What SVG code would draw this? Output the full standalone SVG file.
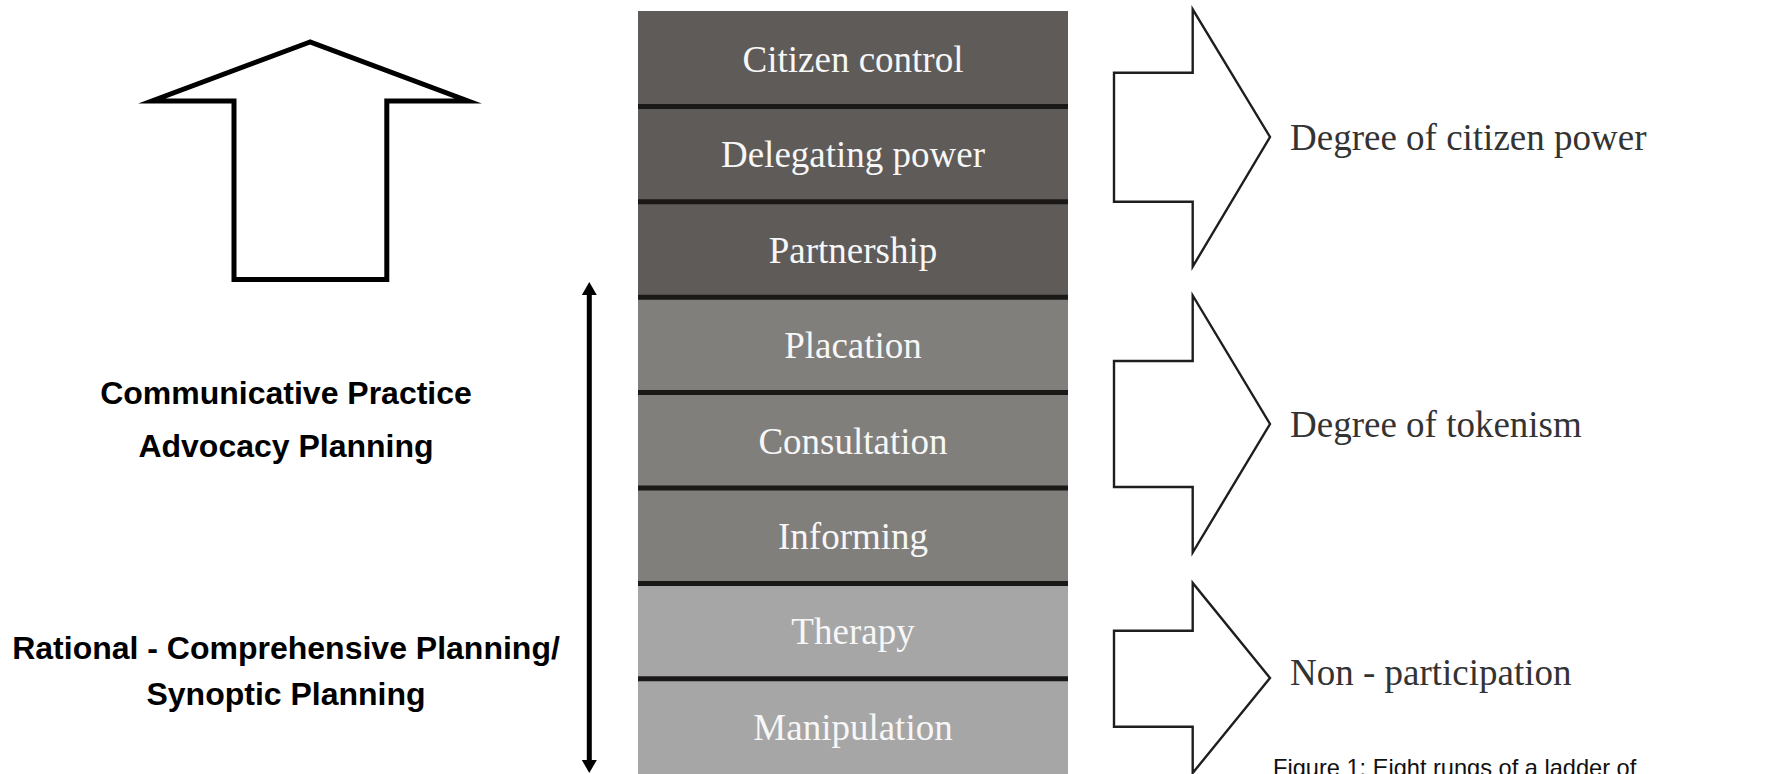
<svg xmlns="http://www.w3.org/2000/svg" width="1768" height="774" viewBox="0 0 1768 774">
  <defs>
    <style>
      .rung-dark { fill: #5f5b59; }
      .rung-mid { fill: #817f7c; }
      .rung-light { fill: #a6a6a6; }
      .rung-text { font-family: "Liberation Serif", "Times New Roman", serif; font-size: 37px; fill: #f7f7f7; text-anchor: middle; }
      .divider { stroke: #1b1918; stroke-width: 5; }
      .block-arrow { fill: #ffffff; stroke: #1e1e1e; stroke-width: 2.4; stroke-linejoin: miter; stroke-miterlimit: 10; }
      .side-label { font-family: "Liberation Serif", "Times New Roman", serif; font-size: 37px; fill: #333333; }
      .theory { font-family: "Liberation Sans", Arial, sans-serif; font-weight: bold; font-size: 32px; fill: #000000; text-anchor: middle; }
      .caption { font-family: "Liberation Sans", Arial, sans-serif; font-size: 23.6px; fill: #111111; }
    </style>
    <marker id="head" markerUnits="userSpaceOnUse" markerWidth="16" markerHeight="16" refX="0" refY="7.5" orient="auto-start-reverse">
      <path d="M0,0 L13,7.5 L0,15 Z" fill="#000000"/>
    </marker>
  </defs>

  <rect width="1768" height="774" fill="#ffffff"/>

  <!-- big upward outline arrow -->
  <g id="up-arrow">
    <path d="M310,42 L152,101 L234,101 L234,279.5 L386.8,279.5 L386.8,101 L468,101 Z" fill="#ffffff" stroke="#000000" stroke-width="5" stroke-linejoin="miter" stroke-miterlimit="12"/>
  </g>

  <!-- planning theory labels -->
  <g id="label-communicative">
    <text class="theory" x="286" y="404">Communicative Practice</text>
    <text class="theory" x="286" y="457">Advocacy Planning</text>
  </g>
  <g id="label-rational">
    <text class="theory" x="286" y="659">Rational - Comprehensive Planning/</text>
    <text class="theory" x="286" y="705">Synoptic Planning</text>
  </g>

  <!-- ladder rungs, top to bottom -->
  <g id="ladder">
    <g id="rung-citizen-control">
      <rect class="rung-dark" x="638" y="11" width="430" height="95.4"/>
      <text class="rung-text" x="853" y="72">Citizen control</text>
    </g>
    <g id="rung-delegating-power">
      <rect class="rung-dark" x="638" y="106.4" width="430" height="95.4"/>
      <text class="rung-text" x="853" y="167">Delegating power</text>
    </g>
    <g id="rung-partnership">
      <rect class="rung-dark" x="638" y="201.8" width="430" height="95.4"/>
      <text class="rung-text" x="853" y="262.5">Partnership</text>
    </g>
    <g id="rung-placation">
      <rect class="rung-mid" x="638" y="297.2" width="430" height="95.4"/>
      <text class="rung-text" x="853" y="358">Placation</text>
    </g>
    <g id="rung-consultation">
      <rect class="rung-mid" x="638" y="392.6" width="430" height="95.4"/>
      <text class="rung-text" x="853" y="453.5">Consultation</text>
    </g>
    <g id="rung-informing">
      <rect class="rung-mid" x="638" y="488" width="430" height="95.4"/>
      <text class="rung-text" x="853" y="549">Informing</text>
    </g>
    <g id="rung-therapy">
      <rect class="rung-light" x="638" y="583.4" width="430" height="95.4"/>
      <text class="rung-text" x="853" y="644">Therapy</text>
    </g>
    <g id="rung-manipulation">
      <rect class="rung-light" x="638" y="678.8" width="430" height="95.2"/>
      <text class="rung-text" x="853" y="739.5">Manipulation</text>
    </g>
    <g id="rung-dividers">
      <line class="divider" x1="638" y1="106.4" x2="1068" y2="106.4"/>
      <line class="divider" x1="638" y1="201.8" x2="1068" y2="201.8"/>
      <line class="divider" x1="638" y1="297.2" x2="1068" y2="297.2"/>
      <line class="divider" x1="638" y1="392.6" x2="1068" y2="392.6"/>
      <line class="divider" x1="638" y1="488" x2="1068" y2="488"/>
      <line class="divider" x1="638" y1="583.4" x2="1068" y2="583.4"/>
      <line class="divider" x1="638" y1="678.8" x2="1068" y2="678.8"/>
    </g>
  </g>

  <!-- range indicator beside the ladder -->
  <g id="connectors">
    <line x1="589.3" y1="295" x2="589.3" y2="760" stroke="#000000" stroke-width="5" marker-start="url(#head)" marker-end="url(#head)"/>
  </g>

  <!-- grouping arrows and their labels -->
  <g id="group-citizen-power">
    <path class="block-arrow" d="M1114,72.7 L1192.7,72.7 L1192.7,9.3 L1270,137 L1192.7,266.7 L1192.7,201.7 L1114,201.7 Z"/>
    <text class="side-label" x="1290" y="150">Degree of citizen power</text>
  </g>
  <g id="group-tokenism">
    <path class="block-arrow" d="M1114,361 L1192.7,361 L1192.7,295.5 L1270,424 L1192.7,552.5 L1192.7,487 L1114,487 Z"/>
    <text class="side-label" x="1290" y="437">Degree of tokenism</text>
  </g>
  <g id="group-non-participation">
    <path class="block-arrow" d="M1114,630.7 L1192.7,630.7 L1192.7,583 L1270,678 L1192.7,773 L1192.7,726.7 L1114,726.7 Z"/>
    <text class="side-label" x="1290" y="685">Non - participation</text>
  </g>

  <text class="caption" x="1273" y="776">Figure 1: Eight rungs of a ladder of</text>
</svg>
